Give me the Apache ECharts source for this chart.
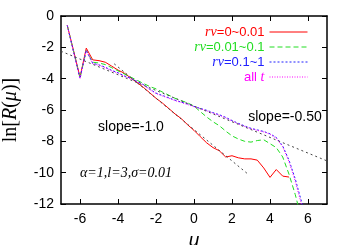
<!DOCTYPE html>
<html><head><meta charset="utf-8">
<script src="https://cdn.jsdelivr.net/npm/echarts@6/dist/echarts.min.js"></script>
<style>html,body{margin:0;padding:0;background:#fff}#c{width:350px;height:245px}</style>
</head><body><div id="c"></div>
<script>
// u grid values
const uValues = [-6.67,-6.33,-6,-5.67,-5.33,-5,-4.67,-4.33,-4,-3.67,-3.33,-3,-2.67,-2.33,-2,-1.67,-1.33,-1,-0.67,-0.33,0,0.33,0.67,1,1.33,1.67,2,2.33,2.67,3,3.33,3.67,4,4.33,4.67,5,5.33,5.67,6];
const seriesNames = ['rv=0~0.01','rv=0.01~0.1','rv=0.1~1','all t'];
const redVals = [-0.6,-2.25,-3.9,-2.05,-2.8,-2.85,-2.95,-3.2,-3.45,-3.65,-3.95,-4.25,-4.55,-4.9,-5.25,-5.55,-5.9,-6.25,-6.55,-6.95,-7.3,-7.7,-8.1,-8.4,-8.6,-9.0,-8.92,-9.05,-9.12,-9.12,-9.2,-9.7,-10.3,-9.8,-10.22,-10.28];
const greenVals = [-0.6,-2.3,-3.95,-2.2,-2.95,-3.0,-3.1,-3.3,-3.5,-3.7,-3.9,-4.1,-4.3,-4.5,-4.65,-4.85,-5.05,-5.25,-5.4,-5.55,-5.75,-6.1,-6.45,-6.75,-7.0,-7.35,-7.65,-7.85,-8.0,-8.05,-7.95,-7.9,-8.15,-8.4,-9.0,-10.1,-11.4,-13.0];
const blueVals = [-0.6,-2.33,-3.98,-2.18,-3.02,-3.12,-3.27,-3.47,-3.62,-3.82,-3.97,-4.17,-4.37,-4.67,-4.92,-5.07,-5.22,-5.37,-5.5,-5.62,-5.77,-5.9,-6.02,-6.17,-6.3,-6.47,-6.67,-6.85,-7.02,-7.17,-7.27,-7.37,-7.52,-7.75,-8.3,-9.2,-10.4,-11.9,-13.4];
const magentaVals = [-0.6,-2.35,-4.0,-2.2,-3.05,-3.15,-3.3,-3.5,-3.65,-3.85,-4.0,-4.2,-4.4,-4.7,-4.95,-5.1,-5.25,-5.4,-5.52,-5.65,-5.8,-5.92,-6.05,-6.2,-6.33,-6.5,-6.7,-6.88,-7.05,-7.2,-7.3,-7.4,-7.55,-7.8,-8.35,-9.3,-10.55,-12.1,-13.6];
const slopeHalfLine = [[-7,-2.25],[7,-9.25]];
const slopeOneLine = [[-4.2,-3.05],[2.85,-10.1]];
const xTicks = [-6,-4,-2,0,2,4,6];
const seriesColors = ['#ff0000','#22dd22','#2020ff','#ff00ff'];

const pairs = v => v.map((y,i)=>[uValues[i], y]);
const chart = echarts.init(document.getElementById('c'), null, {renderer:'canvas'});
const axLine = {show:true, onZero:false, lineStyle:{color:'#000', width:1.5}};
const tick = {show:true, inside:true, length:5, lineStyle:{color:'#000', width:1}};
const dashes = ['solid',[5,3],[2,2],[1,1.5]];
const mk = (idx, vals) => ({
  name: seriesNames[idx], type:'line', data: pairs(vals), symbol:'none', silent:true,
  lineStyle:{color:seriesColors[idx], width:1, type:dashes[idx]}, itemStyle:{color:seriesColors[idx]},
  clip:true, animation:false
});
const legendData = seriesNames.map((n,i)=>({
  name:n,
  textStyle:{color:seriesColors[i], rich:{i:{fontFamily:'Liberation Serif', fontStyle:'italic', fontSize:14, lineHeight:13, color:seriesColors[i]}}}
}));
chart.setOption({
  animation:false,
  grid:{left:61, right:23, top:16, bottom:41, containLabel:false, outerBoundsMode:'none'},
  xAxis:[
    {type:'value', min:-7, max:7, interval:1, position:'bottom',
     axisLine:axLine, axisTick:Object.assign({customValues:xTicks}, tick),
     axisLabel:{customValues:xTicks, fontFamily:'Liberation Sans', fontSize:14, color:'#000', margin:8},
     splitLine:{show:false},
     name:'u', nameLocation:'middle', nameGap:21,
     nameTextStyle:{fontFamily:'Liberation Sans', fontStyle:'italic', fontSize:19, color:'#000'}},
    {type:'value', min:-7, max:7, interval:1, position:'top',
     axisLine:axLine, axisTick:Object.assign({customValues:xTicks}, tick),
     axisLabel:{show:false}, splitLine:{show:false}}
  ],
  yAxis:[
    {type:'value', min:-12, max:0, interval:2, position:'left',
     axisLine:axLine, axisTick:tick,
     axisLabel:{fontFamily:'Liberation Sans', fontSize:14, color:'#000', margin:7},
     splitLine:{show:false},
     name:'{a|ln[}{b|R}{a|(}{b|μ}{a|)]}', nameLocation:'middle', nameGap:40,
     nameTextStyle:{color:'#000', rich:{
       a:{fontFamily:'Liberation Serif', fontSize:20, color:'#000'},
       b:{fontFamily:'Liberation Serif', fontStyle:'italic', fontSize:20, color:'#000'}}}},
    {type:'value', min:-12, max:0, interval:2, position:'right',
     axisLine:axLine, axisTick:tick, axisLabel:{show:false}, splitLine:{show:false}}
  ],
  legend:{
    data:legendData, orient:'vertical', align:'right', right:42, top:25,
    itemWidth:38, itemHeight:8, itemGap:1, padding:0,
    itemStyle:{opacity:0},
    lineStyle:{width:1},
    textStyle:{fontFamily:'Liberation Sans', fontSize:13, lineHeight:13},
    formatter: n => n==='all t' ? 'all {i|t}' : '{i|rv}' + n.slice(2),
    selectedMode:false
  },
  series:[
    mk(0, redVals), mk(1, greenVals), mk(2, blueVals), mk(3, magentaVals),
    {type:'line', data:slopeHalfLine, symbol:'none', silent:true,
     lineStyle:{color:'#444', width:1, type:[2,3]}},
    {type:'line', data:slopeOneLine, symbol:'none', silent:true,
     lineStyle:{color:'#444', width:1, type:[2,3]}}
  ],
  graphic:[
    {type:'text', x:131, y:127, style:{text:'slope=-1.0', font:'14px "Liberation Sans"', fill:'#000', align:'center', verticalAlign:'middle'}},
    {type:'text', x:285, y:117, style:{text:'slope=-0.50', font:'14px "Liberation Sans"', fill:'#000', align:'center', verticalAlign:'middle'}},
    {type:'text', x:126, y:173, style:{text:'α=1,l=3,σ=0.01', font:'italic 14px "Liberation Serif"', fill:'#000', align:'center', verticalAlign:'middle'}}
  ]
});
</script></body></html>
